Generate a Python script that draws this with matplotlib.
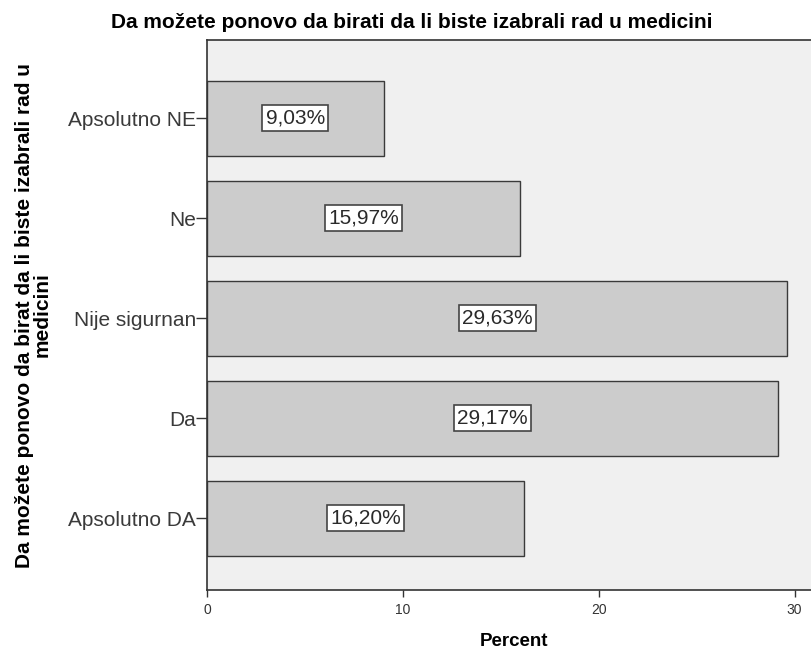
import matplotlib.pyplot as plt
import numpy as np

plt.rcParams['font.family'] = ['Liberation Sans', 'DejaVu Sans']

kategorije = ["Apsolutno NE", "Ne", "Nije sigurnan", "Da", "Apsolutno DA"]
procenti = [9.03, 15.97, 29.63, 29.17, 16.20]
x_ticks = [0, 10, 20, 30]

fig = plt.figure(figsize=(8.12, 6.52), dpi=100)
ax = fig.add_axes([207 / 812, 1 - 590 / 652, 1.01 - 207 / 812, 550 / 652])
ax.set_facecolor("#F0F0F0")

pos = np.arange(len(kategorije))
ax.barh(pos, procenti, height=0.75, color="#CCCCCC", edgecolor="#3a3a3a", linewidth=1.0)

for p, v in zip(pos, procenti):
    txt = f"{v:.2f}".replace(".", ",") + "%"
    ax.text(v / 2, p, txt, ha="center", va="center", fontsize=15, color="#2a2a2a",
            bbox=dict(boxstyle="square,pad=0.16", facecolor="white", edgecolor="#444444", linewidth=1.2))

ax.set_xlim(0, 31.3)
ax.set_ylim(4.72, -0.78)
ax.set_yticks(pos)
ax.set_yticklabels(kategorije, fontsize=15, color="#3a3a3a")
ax.set_xticks(x_ticks)
ax.set_xticklabels([str(t) for t in x_ticks], fontsize=10, color="#333333")
ax.tick_params(axis="y", length=8, width=1, color="#333333", pad=0)
ax.tick_params(axis="x", length=5, width=1, color="#333333", pad=4)

for s in ["left", "bottom", "top"]:
    ax.spines[s].set_color("#333333")
    ax.spines[s].set_linewidth(1.2)
ax.spines["right"].set_visible(False)

ax.set_xlabel("Percent", fontsize=13.5, fontweight="bold", labelpad=12)
ax.set_ylabel("Da možete ponovo da birat da li biste izabrali rad u\nmedicini",
              fontsize=15, fontweight="bold", labelpad=12, linespacing=0.9)

fig.text(0.507, 1 - 23 / 652, "Da možete ponovo da birati da li biste izabrali rad u medicini",
         ha="center", va="center", fontsize=15, fontweight="bold")

plt.savefig("out.png", dpi=100)
